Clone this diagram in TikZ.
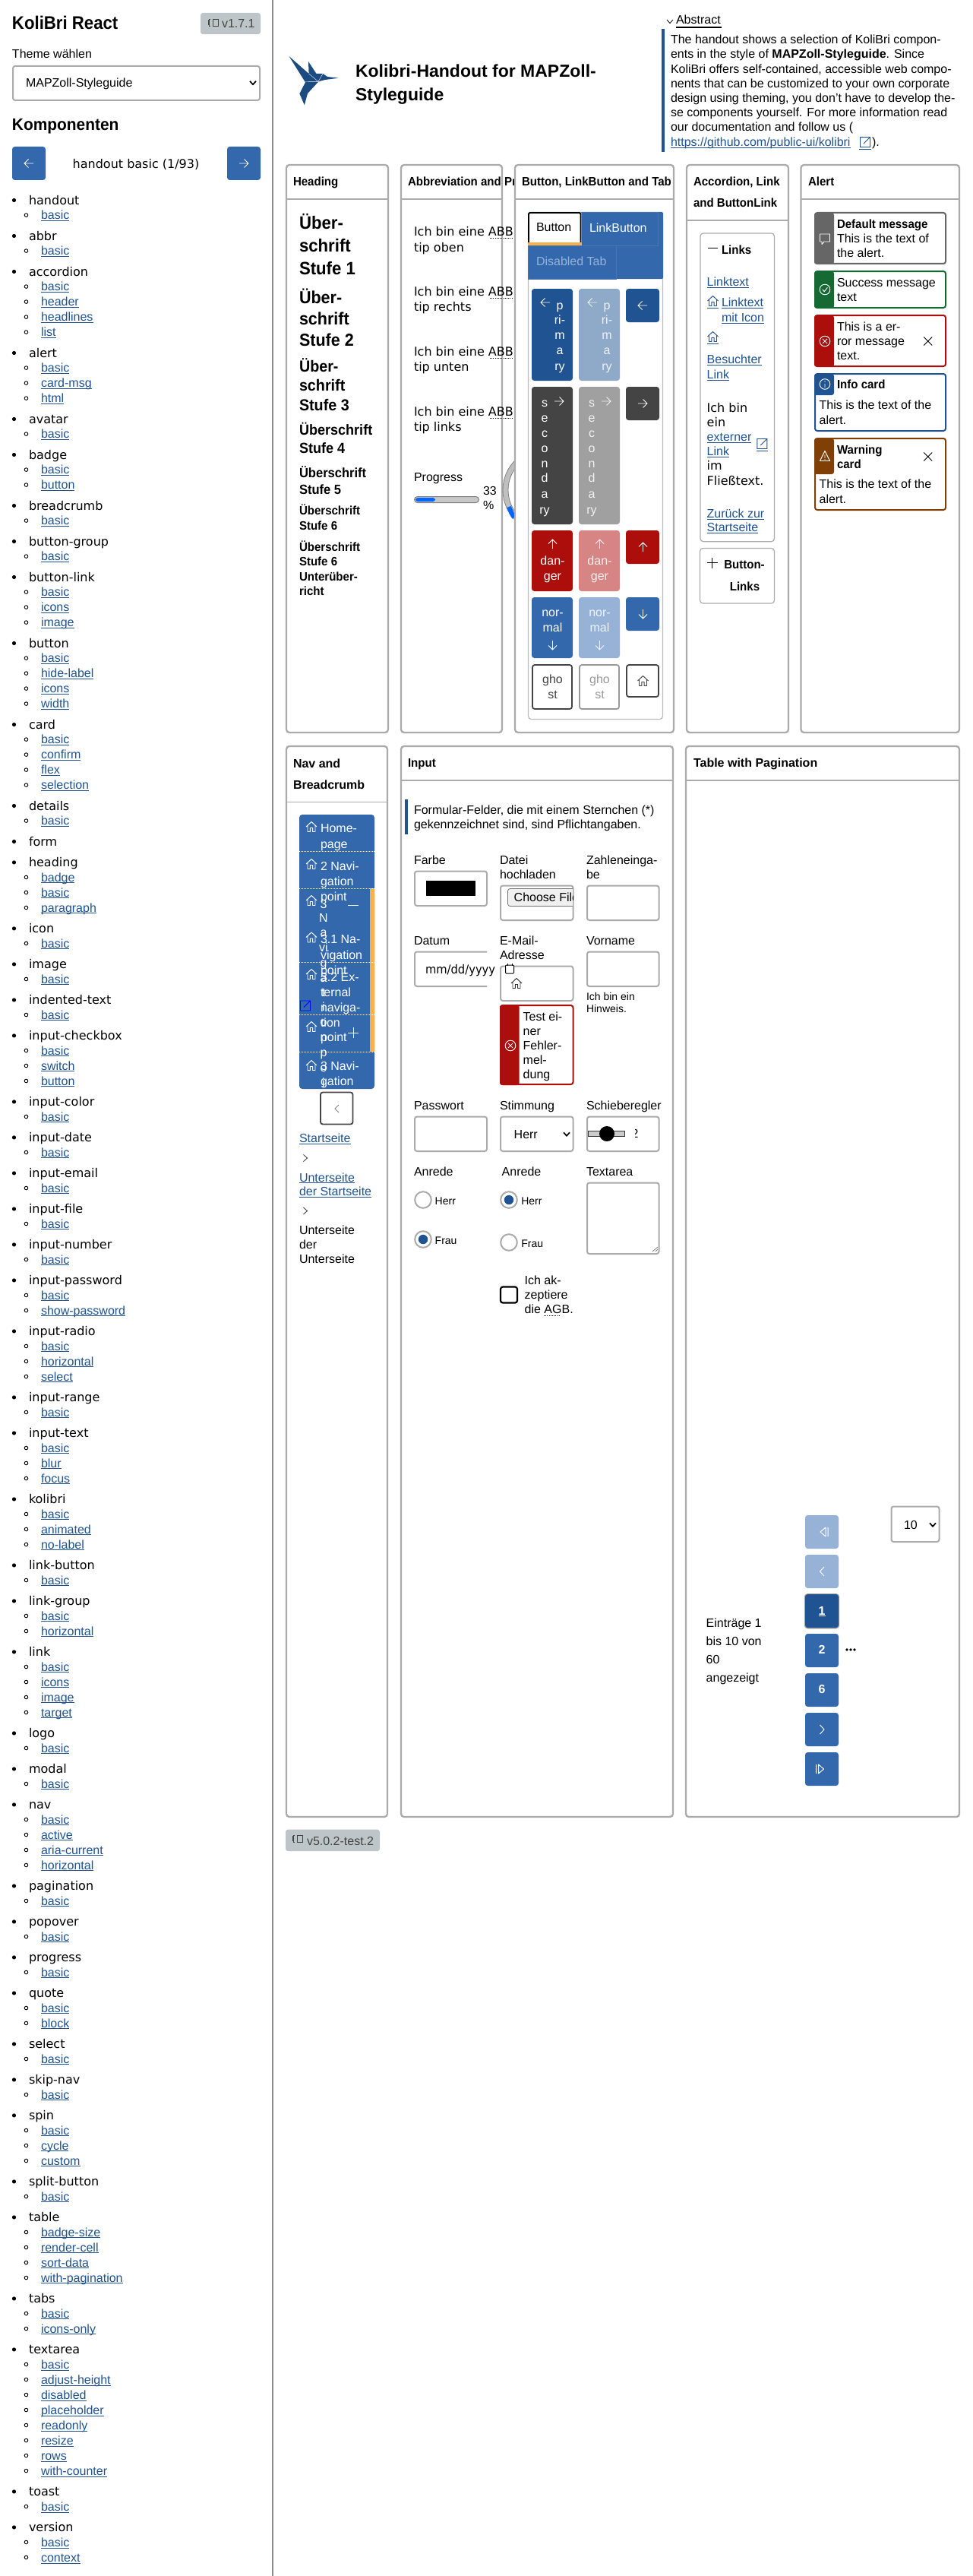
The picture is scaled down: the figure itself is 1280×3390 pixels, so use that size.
\documentclass[tikz,border=0pt]{standalone}
\usepackage{fontspec}
\usepackage{graphicx}
\setmainfont{Liberation Sans}
\newfontfamily\dv{DejaVu Sans}
\definecolor{kblue}{HTML}{3369AC}
\definecolor{kdark}{HTML}{1F5391}
\definecolor{kbor}{HTML}{ABABAB}
\definecolor{kred}{HTML}{AB0E0B}
\definecolor{kgreen}{HTML}{156A33}
\definecolor{kbrown}{HTML}{803F05}
\definecolor{kgrey}{HTML}{666666}
\definecolor{korange}{HTML}{F5B14C}
\definecolor{kbadge}{HTML}{BEC5C9}
\definecolor{klight}{HTML}{96B2D6}
\definecolor{kpri}{HTML}{8FA9C8}
\definecolor{kdang}{HTML}{D78484}
\definecolor{ksec}{HTML}{444444}
\definecolor{ksecd}{HTML}{A0A0A0}
\newcounter{tn}
\newcommand\T[5][]{\stepcounter{tn}\pgfmathsetmacro\bY{#4+0.36*#2}\node[txt,#1] (t\arabic{tn}) at (#3,\bY) {\fontsize{#2}{#2}\selectfont #5};}
\newcommand\lk[1]{{\color{kdark}\setbox0=\hbox{#1}\rlap{\rule[-2.2pt]{\wd0}{1pt}}\box0}}
\newcommand\tb[1]{\scalebox{.94}[1]{\bfseries #1}}
\def\ly{236.1}
\def\gap{19.6}
\newcommand\Top[1]{\pgfmathsetmacro\tmpy{\ly+27.4}\global\let\ly\tmpy
  \fill[black] (18.5,\ly) circle (2.6);
  \T{16}{38}{\ly}{\dv #1}\gdef\gap{19.6}}
\newcommand\Sub[1]{\pgfmathsetmacro\tmpy{\ly+\gap}\global\let\ly\tmpy
  \draw[black,line width=.9pt] (34.5,\ly) circle (2.3);
  \T{16}{54}{\ly}{\lk{#1}}\gdef\gap{20}}
\newcommand\Card[5]{\draw[cardb] (#1,#2) rectangle (#3,#4); \draw[hline] (#1,#5) -- (#3,#5);}
\newcommand\Arw[4]{\begin{scope}[shift={(#1,#2)},rotate=#3]\draw[color=#4,icon] (-6,0) -- (6,0) (0.5,-5.5) -- (6,0) -- (0.5,5.5);\end{scope}}
\newcommand\House[3]{\begin{scope}[shift={(#1,#2)}]\draw[color=#3,icon,line join=round] (-7,0) -- (0,-6.5) -- (7,0) (-5,-1.5) -- (-5,6.5) -- (-1.6,6.5) -- (-1.6,1.5) -- (1.6,1.5) -- (1.6,6.5) -- (5,6.5) -- (5,-1.5);\end{scope}}
\newcommand\Chev[2]{\draw[black,line width=1.7pt] (#1-4,#2-2.2) -- (#1,#2+2.2) -- (#1+4,#2-2.2);}
\newcommand\Ext[3]{\begin{scope}[shift={(#1,#2)}]\draw[color=#3,icon] (5,-6.5) -- (-6.5,-6.5) -- (-6.5,6.5) -- (6.5,6.5) -- (6.5,-2) (-2,2) -- (6.5,-6.5) (1.5,-6.5) -- (6.5,-6.5) -- (6.5,-1.5);\end{scope}}
\newcommand\Bt[5]{\fill[#5,rounded corners=3.5pt] (#1,#2) rectangle (#3,#4);}
\newcommand\Ver[1]{\begin{scope}[shift={(#1)}]\draw[color=ksec,line width=.9pt] (6,-5) rectangle (13,4) (0,-4) -- (0,3) (3,-5) -- (1.8,-5) -- (1.8,4) -- (3,4);\end{scope}}
\newcommand\AlertBox[4]{\draw[color=#3,line width=2pt,rounded corners=3pt] (1073,#1) rectangle (1245,#2); \fill[#3,rounded corners=3pt] (1072,#1) rectangle (1098,#4);}
\newcommand\Cross[3]{\draw[color=#3,icon] (#1-5.5,#2-5.5) -- (#1+5.5,#2+5.5) (#1-5.5,#2+5.5) -- (#1+5.5,#2-5.5);}
\tikzset{
  txt/.style={anchor=base west,inner sep=0pt,outer sep=0pt,text=black},
  cardb/.style={draw=kbor,fill=white,line width=2.3pt,rounded corners=4pt},
  hline/.style={draw=kbor,line width=1.2pt},
  icon/.style={line width=.95pt},
  field/.style={draw=kbor,fill=white,line width=2pt,rounded corners=3pt},
}
\begin{document}
\begin{tikzpicture}[x=1pt,y=-1pt]
\path[use as bounding box,fill=white] (0,0) rectangle (1280,3390);
% ---------- sidebar
\draw[color=gray!90,line width=1.4pt] (359,0) -- (359,3390);
\T{24}{16}{30}{\scalebox{.925}[1]{\bfseries KoliBri React}}
\fill[kbadge,rounded corners=3pt] (264,17) rectangle (343,45);
\Ver{274,30}
\T[text=ksec]{16}{292}{31}{v1.7.1}
\T{16}{16}{71}{Theme wählen}
\draw[field] (17,87) rectangle (342,132);
\T{16}{34}{109}{MAPZoll-Styleguide}
\Chev{333}{109}
\T{22}{16}{163.5}{\scalebox{.95}[1]{\bfseries Komponenten}}
\Bt{16}{193}{60}{237}{kblue}
\Bt{299}{193}{343}{237}{kblue}
\Arw{38}{215}{180}{white}
\Arw{321}{215}{0}{white}
\T[anchor=base]{16}{179}{215.5}{\dv handout basic (1/93)}
\Top{handout}\Sub{basic}
\Top{abbr}\Sub{basic}
\Top{accordion}\Sub{basic}\Sub{header}\Sub{headlines}\Sub{list}
\Top{alert}\Sub{basic}\Sub{card-msg}\Sub{html}
\Top{avatar}\Sub{basic}
\Top{badge}\Sub{basic}\Sub{button}
\Top{breadcrumb}\Sub{basic}
\Top{button-group}\Sub{basic}
\Top{button-link}\Sub{basic}\Sub{icons}\Sub{image}
\Top{button}\Sub{basic}\Sub{hide-label}\Sub{icons}\Sub{width}
\Top{card}\Sub{basic}\Sub{confirm}\Sub{flex}\Sub{selection}
\Top{details}\Sub{basic}
\Top{form}
\Top{heading}\Sub{badge}\Sub{basic}\Sub{paragraph}
\Top{icon}\Sub{basic}
\Top{image}\Sub{basic}
\Top{indented-text}\Sub{basic}
\Top{input-checkbox}\Sub{basic}\Sub{switch}\Sub{button}
\Top{input-color}\Sub{basic}
\Top{input-date}\Sub{basic}
\Top{input-email}\Sub{basic}
\Top{input-file}\Sub{basic}
\Top{input-number}\Sub{basic}
\Top{input-password}\Sub{basic}\Sub{show-password}
\Top{input-radio}\Sub{basic}\Sub{horizontal}\Sub{select}
\Top{input-range}\Sub{basic}
\Top{input-text}\Sub{basic}\Sub{blur}\Sub{focus}
\Top{kolibri}\Sub{basic}\Sub{animated}\Sub{no-label}
\Top{link-button}\Sub{basic}
\Top{link-group}\Sub{basic}\Sub{horizontal}
\Top{link}\Sub{basic}\Sub{icons}\Sub{image}\Sub{target}
\Top{logo}\Sub{basic}
\Top{modal}\Sub{basic}
\Top{nav}\Sub{basic}\Sub{active}\Sub{aria-current}\Sub{horizontal}
\Top{pagination}\Sub{basic}
\Top{popover}\Sub{basic}
\Top{progress}\Sub{basic}
\Top{quote}\Sub{basic}\Sub{block}
\Top{select}\Sub{basic}
\Top{skip-nav}\Sub{basic}
\Top{spin}\Sub{basic}\Sub{cycle}\Sub{custom}
\Top{split-button}\Sub{basic}
\Top{table}\Sub{badge-size}\Sub{render-cell}\Sub{sort-data}\Sub{with-pagination}
\Top{tabs}\Sub{basic}\Sub{icons-only}
\Top{textarea}\Sub{basic}\Sub{adjust-height}\Sub{disabled}\Sub{placeholder}\Sub{readonly}\Sub{resize}\Sub{rows}\Sub{with-counter}
\Top{toast}\Sub{basic}
\Top{version}\Sub{basic}\Sub{context}
% ---------- header
\fill[color=kdark!90!black] (380.5,74) -- (406.6,97) -- (406,81) -- (416.5,97) -- (425,97) -- (431,101) -- (445.6,102.7) -- (428,105) -- (419.4,107.3) -- (405,123) -- (400.8,138.3) -- (394.4,123.3) -- (402,108.3) -- cycle;
\draw[white,line width=.4pt] (402,107.5) -- (419,107.3) (406.6,97) -- (419,107.3) -- (425,97);
\T{23}{468}{93}{\bfseries Kolibri-Handout for MAPZoll-}
\T{23}{468}{124}{\bfseries Styleguide}
\draw[black,line width=.8pt] (878,26) -- (882,30.5) -- (886,26);
\T{16}{890}{26}{Abstract}
\fill[black] (890,34.8) rectangle (950,37.3);
\fill[kdark] (871,38) rectangle (875,200);
\T{16}{883}{52}{The handout shows a selection of KoliBri compon-}
\T{16}{883}{71}{ents in the style of \textbf{MAPZoll-Styleguide}. Since}
\T{16}{883}{91}{KoliBri offers self-contained, accessible web compo-}
\T{16}{883}{110}{nents that can be customized to your own corporate}
\T{16}{883}{129}{design using theming, you don't have to develop the-}
\T{16}{883}{148}{se components yourself. For more information read}
\T{16}{883}{167}{our documentation and follow us (}
\T{16}{883}{187}{\lk{https://github.com/public-ui/kolibri}}
\Ext{1139}{187}{kdark}
\T{16}{1148}{187}{).}
\draw[kdark,line width=1pt] (1131,197) -- (1147,197);
% ---------- row 1: heading
\Card{377}{217}{511}{964}{262}
\T{16}{386}{239}{\tb{Heading}}
\T{23.6}{394}{293}{\tb{Über-}}
\T{23.6}{394}{323}{\tb{schrift}}
\T{23.6}{394}{353}{\tb{Stufe 1}}
\T{22.9}{394}{391}{\tb{Über-}}
\T{22.9}{394}{419}{\tb{schrift}}
\T{22.9}{394}{447}{\tb{Stufe 2}}
\T{21}{394}{482}{\tb{Über-}}
\T{21}{394}{507}{\tb{schrift}}
\T{21}{394}{533}{\tb{Stufe 3}}
\T{19.2}{394}{566}{\tb{Überschrift}}
\T{19.2}{394}{590}{\tb{Stufe 4}}
\T{17.6}{394}{622}{\tb{Überschrift}}
\T{17.6}{394}{644}{\tb{Stufe 5}}
\T{16}{394}{672}{\tb{Überschrift}}
\T{16}{394}{692}{\tb{Stufe 6}}
\T{16}{394}{720}{\tb{Überschrift}}
\T{16}{394}{739}{\tb{Stufe 6}}
\T{16}{394}{759}{\tb{Unterüber-}}
\T{16}{394}{778}{\tb{richt}}
% ---------- abbreviation
\Card{528}{217}{661}{964}{262}
\T{16}{537}{239}{\tb{Abbreviation and Pr}}
\foreach \ya/\yb/\wrd in {305/325.7/oben,384/404/rechts,463/483/unten,542/562/links}{
  \T{16}{545}{\ya}{\dv Ich bin eine ABB}
  \T{16}{545}{\yb}{\dv tip \wrd}
  \pgfmathsetmacro\yd{\ya+8}
  \draw[black,line width=.9pt,dash pattern=on 1pt off 1.2pt] (645,\yd) -- (674,\yd);
}
\T{16}{545}{628}{Progress}
\draw[color=gray,line width=1pt,fill=black!22,rounded corners=4pt] (545.5,653.5) rectangle (630.5,661.5);
\fill[color=blue!60!cyan,rounded corners=3pt] (547,655) rectangle (573,660);
\T{16}{636}{646}{33}
\T{16}{636}{665}{\%}
\draw[color=black!25,line width=7pt] (718,645) circle (52.5);
\draw[color=gray,line width=.8pt] (718,645) circle (56) (718,645) circle (49);
\draw[color=blue!60!cyan,line width=6pt] (670,667) .. controls (672,672) and (674,677) .. (677,681);
% ---------- buttons
\Card{678}{217}{887}{964}{262}
\T{16}{687}{239}{\tb{Button, LinkButton and Tab}}
\draw[color=kbor!80,line width=1.2pt,fill=white,rounded corners=4pt] (695.5,290) rectangle (872.5,946.5);
\fill[kblue,rounded corners=1.5pt] (695,279) rectangle (873,367);
\draw[color=kdark!80,line width=.6pt] (765,279) -- (866.5,279) -- (866.5,323) -- (765,323) (695,323) rectangle (811.5,367);
\fill[white,rounded corners=1.5pt] (695,279) rectangle (765.5,323);
\draw[draw=black,line width=1.8pt,rounded corners=1.5pt] (696,323) -- (696,280) -- (764.5,280) -- (764.5,323);
\fill[korange] (695,319) rectangle (765.5,323);
\T{16}{706}{299}{Button}
\T[text=white]{16}{776}{300}{LinkButton}
\T[text=klight]{16}{706}{344}{Disabled Tab}
\foreach \c/\fc/\tc/\dx in {kdark/kdark/white/0,kpri/kpri/white!85!kpri/62}{
  \pgfmathsetmacro\xa{700+\dx}\pgfmathsetmacro\xb{754+\dx}
  \Bt{\xa}{380}{\xb}{501}{\c}
  \pgfmathsetmacro\xt{737+\dx}\pgfmathsetmacro\xi{718+\dx}
  \Arw{\xi}{398}{180}{\tc}
  \foreach \lt/\yy in {p/402,ri-/421,m/441,a/461,ry/482}{\T[anchor=base,text=\tc]{16}{\xt}{\yy}{\lt}}
}
\Bt{824}{380}{868}{424}{kdark}\Arw{846}{402}{180}{white}
\foreach \c/\tc/\dx in {ksec/white/0,ksecd/white!85!ksecd/62}{
  \pgfmathsetmacro\xa{700+\dx}\pgfmathsetmacro\xb{754+\dx}
  \Bt{\xa}{509}{\xb}{690}{\c}
  \pgfmathsetmacro\xt{717+\dx}\pgfmathsetmacro\xi{736+\dx}
  \Arw{\xi}{528}{0}{\tc}
  \foreach \lt/\yy in {s/530,e/550,c/570,o/590,n/610,d/629,a/650,ry/671}{\T[anchor=base,text=\tc]{16}{\xt}{\yy}{\lt}}
}
\Bt{824}{509}{868}{553}{ksec}\Arw{846}{531}{0}{white}
\foreach \c/\tc/\dx in {kred/white/0,kdang/white!85!kdang/62}{
  \pgfmathsetmacro\xa{700+\dx}\pgfmathsetmacro\xb{754+\dx}\pgfmathsetmacro\xt{727.5+\dx}
  \Bt{\xa}{698}{\xb}{778}{\c}
  \Arw{\xt}{716}{90}{\tc}
  \T[anchor=base,text=\tc]{16}{\xt}{737.7}{dan-}
  \T[anchor=base,text=\tc]{16}{\xt}{757.7}{ger}
}
\Bt{824}{698}{868}{742}{kred}\Arw{846.5}{720}{90}{white}
\foreach \c/\tc/\dx in {kblue/white/0,klight/white!85!klight/62}{
  \pgfmathsetmacro\xa{700+\dx}\pgfmathsetmacro\xb{754+\dx}\pgfmathsetmacro\xt{727.5+\dx}
  \Bt{\xa}{786}{\xb}{866}{\c}
  \T[anchor=base,text=\tc]{16}{\xt}{806}{nor-}
  \T[anchor=base,text=\tc]{16}{\xt}{825.7}{mal}
  \Arw{\xt}{849}{-90}{\tc}
}
\Bt{824}{786}{868}{830}{kblue}\Arw{846.5}{808}{-90}{white}
\foreach \c/\dx in {ksec/0,black!40/62}{
  \pgfmathsetmacro\xa{701+\dx}\pgfmathsetmacro\xb{753+\dx}\pgfmathsetmacro\xt{727.5+\dx}
  \draw[color=\c,fill=white,line width=1.8pt,rounded corners=3pt] (\xa,875) rectangle (\xb,933);
  \T[anchor=base,text=\c]{16}{\xt}{894}{gho}
  \T[anchor=base,text=\c]{16}{\xt}{914}{st}
}
\draw[color=ksec,fill=white,line width=1.8pt,rounded corners=3pt] (825,875) rectangle (867,917);
\House{846.5}{896}{ksec}
% ---------- accordion
\Card{904}{217}{1038}{964}{290}
\T{16}{913}{239}{\tb{Accordion, Link}}
\T{16}{913}{267}{\tb{and ButtonLink}}
\draw[color=kbor,line width=1.2pt,rounded corners=4pt] (922,307) rectangle (1019.5,712.7);
\draw[black,line width=1pt] (931.5,327) -- (945,327);
\T{16}{950}{329}{\tb{Links}}
\T{16}{930.7}{370.7}{\lk{Linktext}}
\House{938.5}{396}{kdark}
\draw[kdark,line width=1pt] (931,405) -- (946,405);
\T{16}{950}{398}{\lk{Linktext}}
\T{16}{950}{417.7}{\lk{mit Icon}}
\House{938.5}{443}{kdark}
\draw[kdark,line width=1pt] (931,452) -- (946,452);
\T{16}{930.7}{473}{\lk{Besuchter}}
\T{16}{930.7}{492.7}{\lk{Link}}
\T{16}{930.7}{536.7}{\dv Ich bin}
\T{16}{930.7}{555.7}{\dv ein}
\T{16}{930.7}{575}{\lk{externer}}
\T{16}{930.7}{594}{\lk{Link}}
\Ext{1003.3}{584}{kdark}
\draw[kdark,line width=1pt] (995.5,593.5) -- (1011,593.5);
\T{16}{930.7}{613}{\dv im}
\T{16}{930.7}{632.7}{\dv Fließtext.}
\T{16}{930.7}{675.7}{\lk{Zurück zur}}
\T{16}{930.7}{694}{\lk{Startseite}}
\draw[color=kbor,line width=1.2pt,rounded corners=4pt] (921.5,721.5) rectangle (1019.5,794);
\draw[black,line width=1pt] (931,740.7) -- (944.5,740.7) (937.7,734) -- (937.7,747.5);
\T[anchor=base]{16}{980}{743}{\tb{Button-}}
\T[anchor=base]{16}{980.5}{771.7}{\tb{Links}}
% ---------- alert
\Card{1054.5}{217}{1263}{964}{262}
\T{16}{1064}{239}{\tb{Alert}}
\AlertBox{280}{347}{kgrey}{347.7}
\draw[white,icon,line join=round] (1079.5,308) -- (1092.5,308) -- (1092.5,318) -- (1085,318) -- (1082,321.5) -- (1082,318) -- (1079.5,318) -- cycle;
\T{16}{1102}{294.7}{\tb{Default message}}
\T{16}{1102}{313.7}{This is the text of}
\T{16}{1102}{332.7}{the alert.}
\AlertBox{357}{405}{kgreen}{405.7}
\draw[white,icon] (1086,381) circle (6.8) (1082.8,381) -- (1085.2,383.6) -- (1089.4,378.4);
\T{16}{1102}{371.7}{Success message}
\T{16}{1102}{390.7}{text}
\AlertBox{415}{482}{kred}{482.7}
\draw[white,icon] (1086,449) circle (6.8);
\draw[white,line width=.9pt] (1083,446) -- (1089,452) (1083,452) -- (1089,446);
\T{16}{1102}{429.7}{This is a er-}
\T{16}{1102}{448.7}{ror message}
\T{16}{1102}{467.7}{text.}
\Cross{1221.7}{449}{black}
\AlertBox{492}{567}{kdark}{520}
\draw[white,icon] (1086,505.5) circle (6.8) (1086,505) -- (1086,510) (1086,501) -- (1086,502.5);
\T{16}{1102}{506}{\tb{Info card}}
\T{16}{1078.6}{533}{This is the text of the}
\T{16}{1078.6}{552.7}{alert.}
\AlertBox{577}{671}{kbrown}{624}
\draw[white,icon,line join=round] (1086,593.5) -- (1092.5,606.5) -- (1079.5,606.5) -- cycle (1086,598.5) -- (1086,603) (1086,604) -- (1086,605.3);
\T{16}{1102}{591.7}{\tb{Warning}}
\T{16}{1102}{610.7}{\tb{card}}
\Cross{1221.7}{601}{black}
\T{16}{1078.6}{637}{This is the text of the}
\T{16}{1078.6}{656.7}{alert.}
% ---------- row 2: nav
\Card{377}{982}{510}{2391}{1055.4}
\T{16}{386}{1004.4}{\bfseries Nav and}
\T{16}{386}{1032.4}{\bfseries Breadcrumb}
\fill[kblue,rounded corners=4pt] (394,1072) rectangle (493,1433);
\fill[korange] (487,1169) rectangle (493,1384);
\begin{scope}
\clip (394,1072) rectangle (493,1433);
\foreach \yy in {1120,1169,1266,1335,1384}{\draw[white,line width=.9pt,dash pattern=on 1pt off 1pt] (394,\yy) -- (493,\yy);}
\foreach \yy in {1088,1137,1185,1233.5,1282,1351,1402}{\House{410}{\yy}{white}}
\foreach \lt/\yy in {Home-/1090,page/1110.5,2 Navi-/1139.4,gation/1159.6,point/1179.8,3.1 Na-/1236,vigation/1256.5,point/1276.7,3.2 Ex-/1285.4,ternal/1305.6,naviga-/1325.8,tion/1345.6,point/1365,3 Navi-/1403,gation/1423}{\T[text=white]{16}{422}{\yy}{\lt}}
\foreach \lt/\yy in {3/1189.5,N/1208,a/1227,vi/1247,g/1267,a/1287,t/1306,i/1325,o/1345,n/1365,p/1385,o/1405,i/1425}{\T[anchor=base,text=white]{16}{426}{\yy}{\lt}}
\draw[white,icon] (458,1191) -- (472,1191) (458,1359) -- (472,1359) (465,1352) -- (465,1366);
\end{scope}
\Ext{402}{1323.5}{blue}
\draw[color=ksec,line width=1.8pt,fill=white,rounded corners=3pt] (422,1437.5) rectangle (464.5,1479.5);
\draw[color=gray,line width=.9pt] (446,1454) -- (441,1459) -- (446,1464);
\T{16}{394}{1498}{\lk{Startseite}}
\draw[black!80,line width=.8pt] (399.5,1519.5) -- (404.5,1524) -- (399.5,1528.5);
\T{16}{394}{1549.4}{\lk{Unterseite}}
\T{16}{394}{1568}{\lk{der Startseite}}
\draw[black!80,line width=.8pt] (399.5,1589) -- (404.5,1593.5) -- (399.5,1598);
\T{16}{394}{1619}{Unterseite}
\T{16}{394}{1638}{der}
\T{16}{394}{1657}{Unterseite}
% ---------- input
\Card{528}{982}{886}{2391}{1027}
\T{16}{537}{1004}{\tb{Input}}
\fill[kdark] (533,1052) rectangle (537,1098);
\T{16}{545}{1065.7}{Formular-Felder, die mit einem Sternchen (*)}
\T{16}{545}{1084.7}{gekennzeichnet sind, sind Pflichtangaben.}
\T{16}{545}{1131.7}{Farbe}
\draw[field] (546,1146.5) rectangle (641,1192);
\fill[black] (561,1159) rectangle (625.7,1178.7);
\T{16}{658}{1131.7}{Datei}
\T{16}{658}{1150.7}{hochladen}
\draw[field] (659,1165.5) rectangle (754.5,1211);
\begin{scope}
\clip (660,1165) rectangle (754,1210);
\draw[color=black!55,fill=black!6,line width=.8pt,rounded corners=3pt] (668.5,1169.5) rectangle (770,1192.5);
\T{16}{676.7}{1180.7}{Choose File}
\end{scope}
\T{16}{772}{1131.7}{Zahleneinga-}
\T{16}{772}{1150.7}{be}
\draw[field] (773,1165.5) rectangle (867.5,1211);
\T{16}{545}{1237.7}{Datum}
\draw[draw=kbor,line width=2pt,rounded corners=3pt] (641,1252.5) -- (546,1252.5) -- (546,1298) -- (641,1298);
\T{16}{560}{1275.7}{\dv\scalebox{.92}[1]{mm/dd/yyyy}}
\T{16}{658}{1237.7}{E-Mail-}
\T{16}{658}{1256.7}{Adresse}
\draw[field] (659,1271.5) rectangle (754.5,1317);
\draw[black,line width=1pt,rounded corners=1pt,fill=white] (665.5,1270) rectangle (676.5,1281);
\draw[black,line width=1pt] (668,1268) -- (668,1271) (674,1268) -- (674,1271);
\House{680}{1294}{black!80}
\draw[color=kred,line width=2pt,fill=white,rounded corners=3pt] (659,1323) rectangle (754.5,1427);
\fill[kred,rounded corners=3pt] (658,1322.3) rectangle (683.7,1428);
\draw[white,icon] (672,1376) circle (6.8);
\draw[white,line width=.9pt] (669,1373) -- (675,1379) (669,1379) -- (675,1373);
\T{16}{688.7}{1337.7}{Test ei-}
\T{16}{688.7}{1356.7}{ner}
\T{16}{688.7}{1375.7}{Fehler-}
\T{16}{688.7}{1395}{mel-}
\T{16}{688.7}{1414}{dung}
\T{16}{772}{1237.7}{Vorname}
\draw[field] (773,1252.5) rectangle (867.5,1298);
\T{14}{772}{1311}{Ich bin ein}
\T{14}{772}{1327}{Hinweis.}
\T{16}{545}{1454.7}{Passwort}
\draw[field] (546,1469.5) rectangle (641,1515);
\T{16}{658}{1454.7}{Stimmung}
\draw[field] (659,1469.5) rectangle (754.5,1515);
\T{16}{676.7}{1492.7}{Herr}
\Chev{746}{1492.5}
\T{16}{772}{1454.7}{Schieberegler}
\draw[field] (773,1469.5) rectangle (867.5,1515);
\draw[black!80,fill=black!20,line width=.8pt] (774.5,1488.5) rectangle (822.7,1495.5);
\fill[black] (799,1492) circle (10);
\begin{scope}
\clip (836,1480) rectangle (840,1505);
\T{16}{831.5}{1492}{2}
\end{scope}
\T{16}{545}{1541.7}{Anrede}
\draw[color=kbor,line width=2pt] (557,1579) circle (10.8) (557,1631) circle (10.8);
\fill[kdark] (557,1631) circle (6.2);
\T{14}{572.7}{1580}{Herr}
\T{14}{572.7}{1632}{Frau}
\T{16}{660.7}{1541.7}{Anrede}
\draw[color=kbor,line width=2pt] (670,1579) circle (10.8) (670,1635) circle (10.8);
\fill[kdark] (670,1579) circle (6.2);
\T{14}{686.3}{1580}{Herr}
\T{14}{686.3}{1636}{Frau}
\T{16}{772}{1541.7}{Textarea}
\draw[field] (773,1556.5) rectangle (867.5,1650);
\draw[black!60,line width=.6pt] (859,1647) -- (866,1641) (862.7,1647) -- (866,1644);
\draw[black,line width=2.2pt,rounded corners=3pt] (659,1693.5) rectangle (681,1714.5);
\T{16}{690.7}{1684.7}{Ich ak-}
\T{16}{690.7}{1703.7}{zeptiere}
\T{16}{690.7}{1723}{die AGB.}
\draw[black,line width=.9pt,dash pattern=on 1pt off 1.2pt] (716,1731) -- (736,1731);
% ---------- table
\Card{903}{982}{1263}{2391}{1027}
\T{16}{913}{1004}{\bfseries Table with Pagination}
\T{16}{929.7}{2135.7}{Einträge 1}
\T{16}{929.7}{2159.7}{bis 10 von}
\T{16}{929.7}{2183.3}{60}
\T{16}{929.7}{2207.7}{angezeigt}
\Bt{1060}{1994}{1104}{2038}{klight}
\Bt{1060}{2046}{1104}{2090}{klight}
\fill[black!35,rounded corners=4.5pt] (1058.8,2097) rectangle (1105.2,2143.5);
\Bt{1060}{2098}{1104}{2142}{kdark}
\Bt{1060}{2150}{1104}{2194}{kblue}
\Bt{1060}{2202}{1104}{2246}{kblue}
\Bt{1060}{2254}{1104}{2298}{kblue}
\Bt{1060}{2306}{1104}{2350}{kblue}
\draw[white,line width=1pt,line join=round] (1087,2010) -- (1080,2016) -- (1087,2022) -- cycle (1090,2010) -- (1090,2022);
\draw[white,line width=.9pt] (1085,2062) -- (1079.5,2068) -- (1085,2074);
\T[anchor=base,text=white]{16}{1082}{2120}{\bfseries 1}
\fill[white] (1077.5,2126) rectangle (1086.5,2127.2);
\T[anchor=base,text=white]{16}{1082}{2171}{\bfseries 2}
\T[anchor=base,text=white]{16}{1082}{2223}{\bfseries 6}
\draw[white,line width=.9pt] (1079.5,2270) -- (1085,2276) -- (1079.5,2282);
\draw[white,line width=1pt,line join=round] (1077.5,2322) -- (1084.5,2328) -- (1077.5,2334) -- cycle (1074.5,2322) -- (1074.5,2334);
\fill[black] (1115,2171) circle (1.8) (1120,2171) circle (1.8) (1125,2171) circle (1.8);
\draw[field] (1173.5,1982.5) rectangle (1236.5,2029);
\T{16}{1190}{2006.7}{10}
\Chev{1228}{2006.5}
% ---------- version
\fill[kbadge,rounded corners=3pt] (376,2407.7) rectangle (500,2436);
\Ver{385,2420}
\T[text=ksec]{16}{404}{2422.7}{v5.0.2-test.2}
\end{tikzpicture}
\end{document}
